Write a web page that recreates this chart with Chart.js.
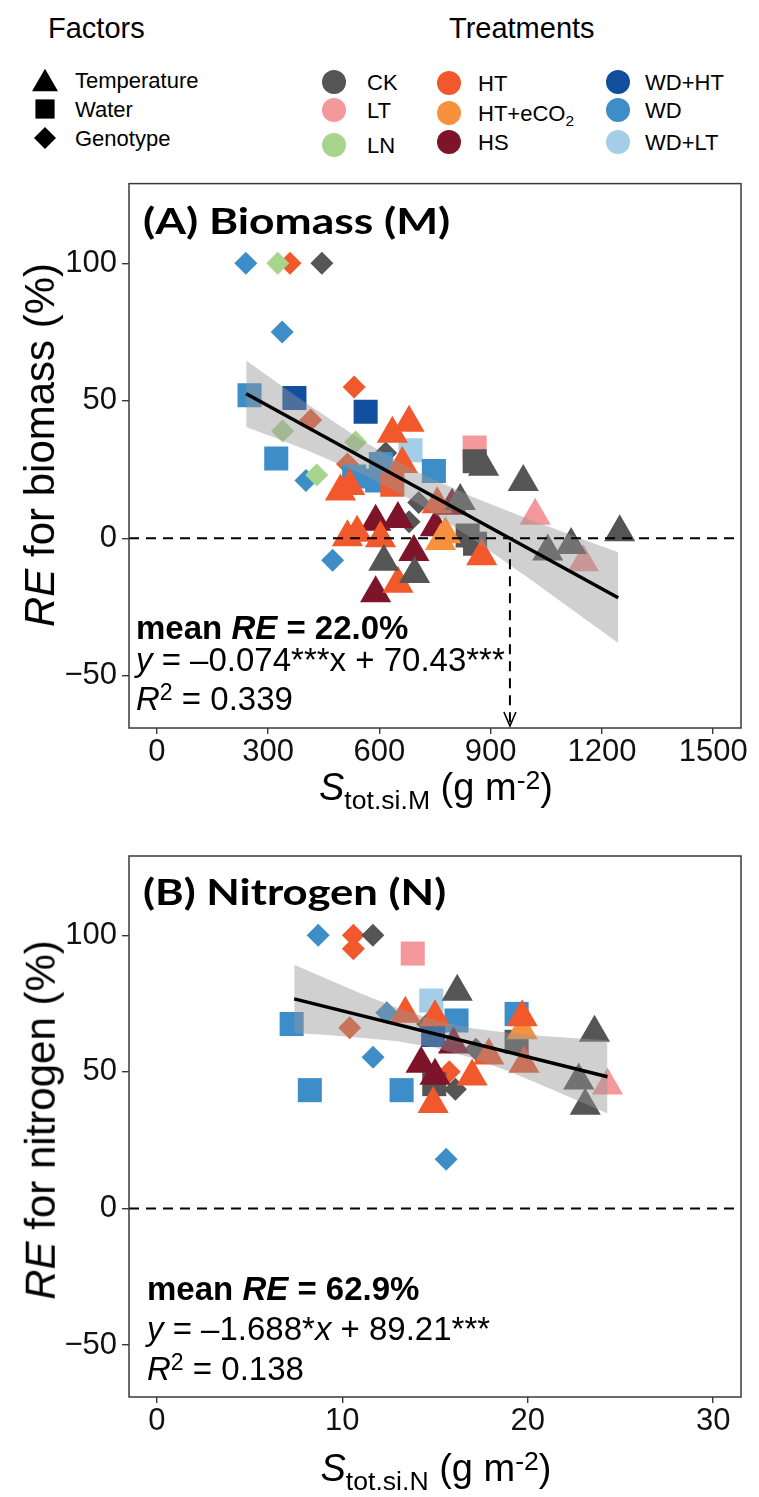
<!DOCTYPE html>
<html><head><meta charset="utf-8">
<title>RE vs S_tot</title>
<script src="https://cdn.jsdelivr.net/npm/chart.js@4.4.1/dist/chart.umd.min.js"></script>
<style>
html,body{margin:0;padding:0;background:#fff}
#page{position:relative;width:759px;height:1497px;overflow:hidden;font-family:"Liberation Sans",Arial,Helvetica,sans-serif;color:#000}
.t{position:absolute;white-space:nowrap;line-height:1;transform-origin:0 0}
.wrap{position:absolute;left:0;width:759px}
.wrap canvas{display:block}
.sub{font-size:0.7em;position:relative;top:0.32em}
.sup{font-size:0.7em;position:relative;top:-0.42em}
.sym{position:absolute}
</style></head>
<body><div id="page">
<div class="wrap" style="top:160px;height:670px"><canvas id="chartA" width="759" height="670" style="width:759px;height:670px"></canvas></div>
<div class="wrap" style="top:830px;height:667px"><canvas id="chartB" width="759" height="667" style="width:759px;height:667px"></canvas></div>
</div>
<script>
// ================= DATA =================
const TREATMENTS = ['CK','LT','LN','HT','HT+eCO2','HS','WD+HT','WD','WD+LT'];

// ---- Panel A: biomass, x = S_tot.si.M (g m-2), y = RE (%) ----
// Temperature factor (triangles)
const A_temp_x   = [495, 520, 590, 514, 540, 603, 650, 693, 612, 695, 650, 590, 680, 635, 662, 751, 778, 765, 876, 881, 988, 1020, 1248, 1054, 1117, 1150, 818, 796, 756];
const A_temp_y   = [17, 19, 6, 0.4, 2, 0, 7, -5, -8.5, -13, -16.5, -20, 42, 38, 27, 4, 1.5, -1, -6.5, 26, 20.5, 8.2, 2.2, -4.8, -2.4, -8.7, 13.6, 11.8, 12.4];
const A_temp_trt = ['HT','HT','HS','HT','HT','HT','HS','HS','CK','CK','HT','HS','HT','HT','HT','HS','HT+eCO2','HT+eCO2','HT','CK','CK','LT','CK','CK','CK','LT','CK','HS','HT'];
// Water factor (squares)
const A_water_x   = [250, 322, 532, 594, 604, 747, 371, 563, 684, 857, 857, 838, 858, 635];
const A_water_y   = [52, 29, 22.5, 21, 27, 24.5, 51, 46, 32, 28, 33, 1, -2, 19.5];
const A_water_trt = ['WD','WD','WD','WD','WD','WD','WD+HT','WD+HT','WD+LT','CK','LT','CK','CK','HT'];
// Genotype factor (diamonds)
const A_geno_x   = [240, 338, 402, 474, 326, 339, 536, 431, 359, 532, 415, 514, 445, 617, 680, 706];
const A_geno_y   = [100, 75, 21, -8, 100, 39, 35, 23, 100, 55, 43, 27, 100, 31, 6, 13];
const A_geno_trt = ['WD','WD','WD','WD','LN','LN','LN','LN','HT','HT','HT','HT','CK','CK','CK','CK'];
// Fitted line and 95% band
const A_fit_x  = [241, 1244];
const A_fit_y  = [52.6, -21.6];
const A_band_x  = [241, 320, 400, 550, 700, 850, 1000, 1120, 1244];
const A_band_hi = [64.7, 57.0, 49.4, 35.8, 24.3, 15.1, 7.1, 1.0, -5.1];
const A_band_lo = [40.5, 36.5, 32.3, 23.6, 13.0, -0.1, -14.3, -26.0, -38.1];
const A_arrow_x = 952;   // x-intercept marked by the dashed arrow
const A_x_ticks = [0, 300, 600, 900, 1200, 1500];

// ---- Panel B: nitrogen, x = S_tot.si.N (g m-2), y = RE (%) ----
const B_temp_x   = [13.4, 15.0, 16.2, 14.25, 15.0, 17.0, 14.9, 17.9, 19.8, 19.7, 19.7, 16.0, 23.6, 22.75, 23.1, 24.3];
const B_temp_y   = [71.3, 70, 79.3, 53, 48.6, 48.3, 38.2, 56, 53, 70, 65.2, 60, 64.3, 46.8, 37.6, 45];
const B_temp_trt = ['HT','HT','CK','HS','HS','HT','HT','HT','HT','HT','HT+eCO2','HS','CK','CK','CK','LT'];
const B_water_x   = [7.27, 8.25, 13.2, 14.8, 16.16, 19.4, 14.9, 14.96, 19.4, 13.8];
const B_water_y   = [67.5, 43.3, 43.3, 76.1, 68.8, 71.2, 63.5, 45.5, 61, 93.3];
const B_water_trt = ['WD','WD','WD','WD+LT','WD','WD','WD+HT','CK','CK','LT'];
const B_geno_x   = [8.7, 10.6, 10.6, 11.65, 10.4, 12.4, 11.66, 14.6, 15.77, 16.1, 17.2, 15.6];
const B_geno_y   = [100, 100, 95.1, 100, 66.1, 71.6, 55.3, 67.5, 50, 43.6, 58.3, 18];
const B_geno_trt = ['WD','HT','HT','CK','HT','WD','WD','CK','HT','CK','CK','WD'];
const B_fit_x  = [7.41, 24.3];
const B_fit_y  = [76.7, 48.2];
const B_band_x  = [7.41, 9, 11, 13, 15, 17, 19, 21, 24.3];
const B_band_hi = [89.2, 84.5, 78.7, 73.4, 68.9, 66.0, 64.2, 63.0, 61.6];
const B_band_lo = [64.2, 63.6, 62.5, 61.2, 58.8, 55.1, 50.1, 44.5, 34.8];
const B_x_ticks = [0, 10, 20, 30];

const Y_ticks = [-50, 0, 50, 100];

// ================= STYLE =================
const COLORS = {CK:'#555555', LT:'#F4989C', LN:'#A8D58C', HT:'#F1582C', 'HT+eCO2':'#F7913D',
                HS:'#7D1429', 'WD+HT':'#114F9E', WD:'#3D8DC8', 'WD+LT':'#A4CDE7'};
const SHAPES = {temp:{style:'triangle', r:18}, water:{style:'rect', r:17}, geno:{style:'rectRot', r:11.5}};
const FONT = '"Liberation Sans", Arial, Helvetica, sans-serif';

function pointSets(groups){
  const sets = [];
  groups.forEach(g => {
    TREATMENTS.forEach(t => {
      const data = [];
      g.trt.forEach((tt, i) => { if (tt === t) data.push({x: g.x[i], y: g.y[i]}); });
      if (data.length) sets.push({
        type:'scatter', label: t + ' ' + g.shape, data,
        pointStyle: SHAPES[g.shape].style, pointRadius: SHAPES[g.shape].r, pointHoverRadius: SHAPES[g.shape].r,
        backgroundColor: COLORS[t], pointBackgroundColor: COLORS[t],
        borderWidth: 0, pointBorderWidth: 0, borderColor:'rgba(0,0,0,0)', order: 2
      });
    });
  });
  return sets;
}
function xy(xs, ys){ return xs.map((x, i) => ({x, y: ys[i]})); }

const boxPlugin = {
  id:'box',
  afterDraw(chart){
    const {ctx, chartArea:a} = chart;
    ctx.save(); ctx.strokeStyle = '#3a3a3a'; ctx.lineWidth = 1.5;
    ctx.strokeRect(a.left, a.top, a.right - a.left, a.bottom - a.top);
    ctx.restore();
  }
};
const refPlugin = {
  id:'refs',
  afterDatasetsDraw(chart, args, opts){
    const {ctx, chartArea:a, scales:{x, y}} = chart;
    ctx.save();
    ctx.beginPath(); ctx.rect(a.left, a.top, a.right - a.left, a.bottom - a.top); ctx.clip();
    ctx.strokeStyle = '#000'; ctx.lineWidth = 2; ctx.setLineDash([10, 7]);
    const y0 = y.getPixelForValue(0);
    ctx.beginPath(); ctx.moveTo(a.left, y0); ctx.lineTo(a.right, y0); ctx.stroke();
    if (opts && opts.arrowX != null){
      const ax = x.getPixelForValue(opts.arrowX);
      ctx.beginPath(); ctx.moveTo(ax, y0 + 4); ctx.lineTo(ax, a.bottom - 2); ctx.stroke();
      ctx.setLineDash([]); ctx.lineWidth = 1.6;
      ctx.beginPath(); ctx.moveTo(ax - 6, a.bottom - 16); ctx.lineTo(ax, a.bottom - 2); ctx.lineTo(ax + 6, a.bottom - 16); ctx.stroke();
    }
    ctx.restore();
  }
};

function makeChart(id, cfg){
  const datasets = [
    {type:'line', label:'fit', data: xy(cfg.fitX, cfg.fitY), borderColor:'#000', borderWidth:3.4,
     pointRadius:0, fill:false, tension:0, order:0},
    {type:'line', label:'band hi', data: xy(cfg.bandX, cfg.bandHi), borderColor:'rgba(0,0,0,0)', borderWidth:1,
     pointRadius:0, fill:'+1', backgroundColor:'rgba(150,150,150,0.45)', tension:0, order:1},
    {type:'line', label:'band lo', data: xy(cfg.bandX, cfg.bandLo), borderColor:'rgba(0,0,0,0)', borderWidth:1,
     pointRadius:0, fill:false, tension:0, order:1},
    ...pointSets(cfg.groups)
  ];
  return new Chart(document.getElementById(id), {
    type:'scatter',
    data:{datasets},
    plugins:[boxPlugin, refPlugin],
    options:{
      responsive:false, animation:false, events:[],
      layout:{padding:{top:cfg.padTop, right:16, left:0, bottom:0}},
      plugins:{legend:{display:false}, tooltip:{enabled:false}, refs:{arrowX: cfg.arrowX}},
      scales:{
        x:{type:'linear', min:cfg.xMin, max:cfg.xMax,
           afterBuildTicks: s => { s.ticks = cfg.xTicks.map(v => ({value:v})); },
           afterFit: s => { s.height = cfg.xAxisH; },
           grid:{display:true, drawOnChartArea:false, drawTicks:true, tickLength:6, color:'#3a3a3a', lineWidth:1.4},
           border:{display:false},
           ticks:{padding:0, autoSkip:false, maxRotation:0, minRotation:0, color:'#111', font:{family:FONT, size:31},
                  callback: v => String(v)}},
        y:{type:'linear', min:-69, max:129,
           afterBuildTicks: s => { s.ticks = Y_ticks.map(v => ({value:v})); },
           afterFit: s => { s.width = 129; },
           grid:{display:true, drawOnChartArea:false, drawTicks:true, tickLength:7, color:'#3a3a3a', lineWidth:1.4},
           border:{display:false},
           ticks:{padding:5, color:'#111', font:{family:FONT, size:31},
                  callback: v => v < 0 ? '\u2212' + Math.abs(v) : String(v)}}
      }
    }
  });
}

makeChart('chartA', {
  padTop:22, xAxisH:102, xMin:-75, xMax:1575, xTicks:A_x_ticks, arrowX:A_arrow_x,
  fitX:A_fit_x, fitY:A_fit_y, bandX:A_band_x, bandHi:A_band_hi, bandLo:A_band_lo,
  groups:[{shape:'temp', x:A_temp_x, y:A_temp_y, trt:A_temp_trt},
          {shape:'water', x:A_water_x, y:A_water_y, trt:A_water_trt},
          {shape:'geno', x:A_geno_x, y:A_geno_y, trt:A_geno_trt}]
});
makeChart('chartB', {
  padTop:26, xAxisH:100, xMin:-1.5, xMax:31.5, xTicks:B_x_ticks, arrowX:null,
  fitX:B_fit_x, fitY:B_fit_y, bandX:B_band_x, bandHi:B_band_hi, bandLo:B_band_lo,
  groups:[{shape:'temp', x:B_temp_x, y:B_temp_y, trt:B_temp_trt},
          {shape:'water', x:B_water_x, y:B_water_y, trt:B_water_trt},
          {shape:'geno', x:B_geno_x, y:B_geno_y, trt:B_geno_trt}]
});

// ================= TEXT & LEGEND =================
const page = document.getElementById('page');
function addText(html, o){
  const d = document.createElement('div');
  d.className = 't';
  d.innerHTML = html + '<span style="display:inline-block;width:0;height:0;vertical-align:baseline"></span>';
  d.style.fontSize = o.size + 'px';
  if (o.weight) d.style.fontWeight = o.weight;
  if (o.family) d.style.fontFamily = o.family;
  d.style.left = '0px'; d.style.top = '0px';
  page.appendChild(d);
  const bl = d.lastChild.offsetTop;
  let w = d.offsetWidth;
  let sx = 1;
  if (o.fit) { sx = o.fit / w; w = o.fit; }
  if (o.rotate){
    const h = d.offsetHeight;
    d.style.left = (o.x - w / 2) + 'px';
    d.style.top = (o.y - h / 2) + 'px';
    d.style.transformOrigin = '50% 50%';
    d.style.transform = 'rotate(-90deg)';
    return d;
  }
  const left = o.align === 'center' ? o.x - w / 2 : o.x;
  d.style.left = left + 'px';
  d.style.top = (o.base - bl) + 'px';
  if (sx !== 1) d.style.transform = 'scaleX(' + sx + ')';
  return d;
}
function addSym(kind, cx, cy, size, color){
  const s = size, ns = 'http://www.w3.org/2000/svg';
  const svg = document.createElementNS(ns, 'svg');
  svg.setAttribute('width', s); svg.setAttribute('height', s);
  svg.setAttribute('class', 'sym');
  svg.style.left = (cx - s / 2) + 'px'; svg.style.top = (cy - s / 2) + 'px';
  let el;
  if (kind === 'circle'){ el = document.createElementNS(ns, 'circle'); el.setAttribute('cx', s/2); el.setAttribute('cy', s/2); el.setAttribute('r', s/2); }
  else if (kind === 'tri'){ el = document.createElementNS(ns, 'polygon'); el.setAttribute('points', `${s/2},${s*0.07} ${s},${s*0.93} 0,${s*0.93}`); }
  else if (kind === 'sq'){ el = document.createElementNS(ns, 'rect'); el.setAttribute('x', s*0.1); el.setAttribute('y', s*0.1); el.setAttribute('width', s*0.8); el.setAttribute('height', s*0.8); }
  else { el = document.createElementNS(ns, 'polygon'); el.setAttribute('points', `${s/2},0 ${s},${s/2} ${s/2},${s} 0,${s/2}`); }
  el.setAttribute('fill', color);
  svg.appendChild(el);
  page.appendChild(svg);
}

// Legend headings
addText('Factors', {x:48, base:38, size:29});
addText('Treatments', {x:449, base:38, size:29});
// Factor legend
addSym('tri', 45, 80, 26, '#000');  addText('Temperature', {x:75, base:88, size:22});
addSym('sq', 45, 109, 24, '#000');  addText('Water', {x:75, base:117, size:22});
addSym('dia', 45, 138, 22, '#000'); addText('Genotype', {x:75, base:146, size:22});
// Treatment legend
const LEG = [
  ['CK', 334, 82, 367], ['LT', 334, 110, 367], ['LN', 334, 145, 367],
  ['HT', 449, 83, 478], ['HT+eCO2', 449, 113, 478], ['HS', 449, 142, 478],
  ['WD+HT', 618, 82, 645], ['WD', 618, 110, 645], ['WD+LT', 618, 142, 645]
];
LEG.forEach(([t, cx, cy, tx]) => {
  addSym('circle', cx, cy, 24, COLORS[t]);
  const label = t === 'HT+eCO2' ? 'HT+eCO<span class="sub">2</span>' : t;
  addText(label, {x:tx, base:cy + 8, size:22});
});

// Panel titles
const TITLE_FONT = 'Lato, "Open Sans", sans-serif';
addText('(A) Biomass (M)', {x:143, base:234, size:37, weight:700, family:TITLE_FONT, fit:307});
addText('(B) Nitrogen (N)', {x:143, base:905, size:37, weight:700, family:TITLE_FONT, fit:303});

// Annotations
addText('<b>mean <i>RE</i> = 22.0%</b>', {x:136, base:639, size:33});
addText('<i>y</i> = \u20130.074***x + 70.43***', {x:136, base:671, size:33});
addText('<i>R</i><span class="sup">2</span> = 0.339', {x:136, base:710, size:33});
addText('<b>mean <i>RE</i> = 62.9%</b>', {x:147, base:1300, size:33});
addText('<i>y</i> = \u20131.688*<i>x</i> + 89.21***', {x:147, base:1340, size:33});
addText('<i>R</i><span class="sup">2</span> = 0.138', {x:147, base:1380, size:33});

// Axis titles
addText('<i>RE</i> for biomass (%)', {x:40, y:445, size:42, rotate:true});
addText('<i>RE</i> for nitrogen (%)', {x:40, y:1120, size:42, rotate:true});
addText('<i>S</i><span class="sub">tot.si.M</span> (g m<span class="sup">-2</span>)', {x:436, base:800, size:38, align:'center'});
addText('<i>S</i><span class="sub">tot.si.N</span> (g m<span class="sup">-2</span>)', {x:436, base:1481, size:38, align:'center'});
</script>
</body></html>
